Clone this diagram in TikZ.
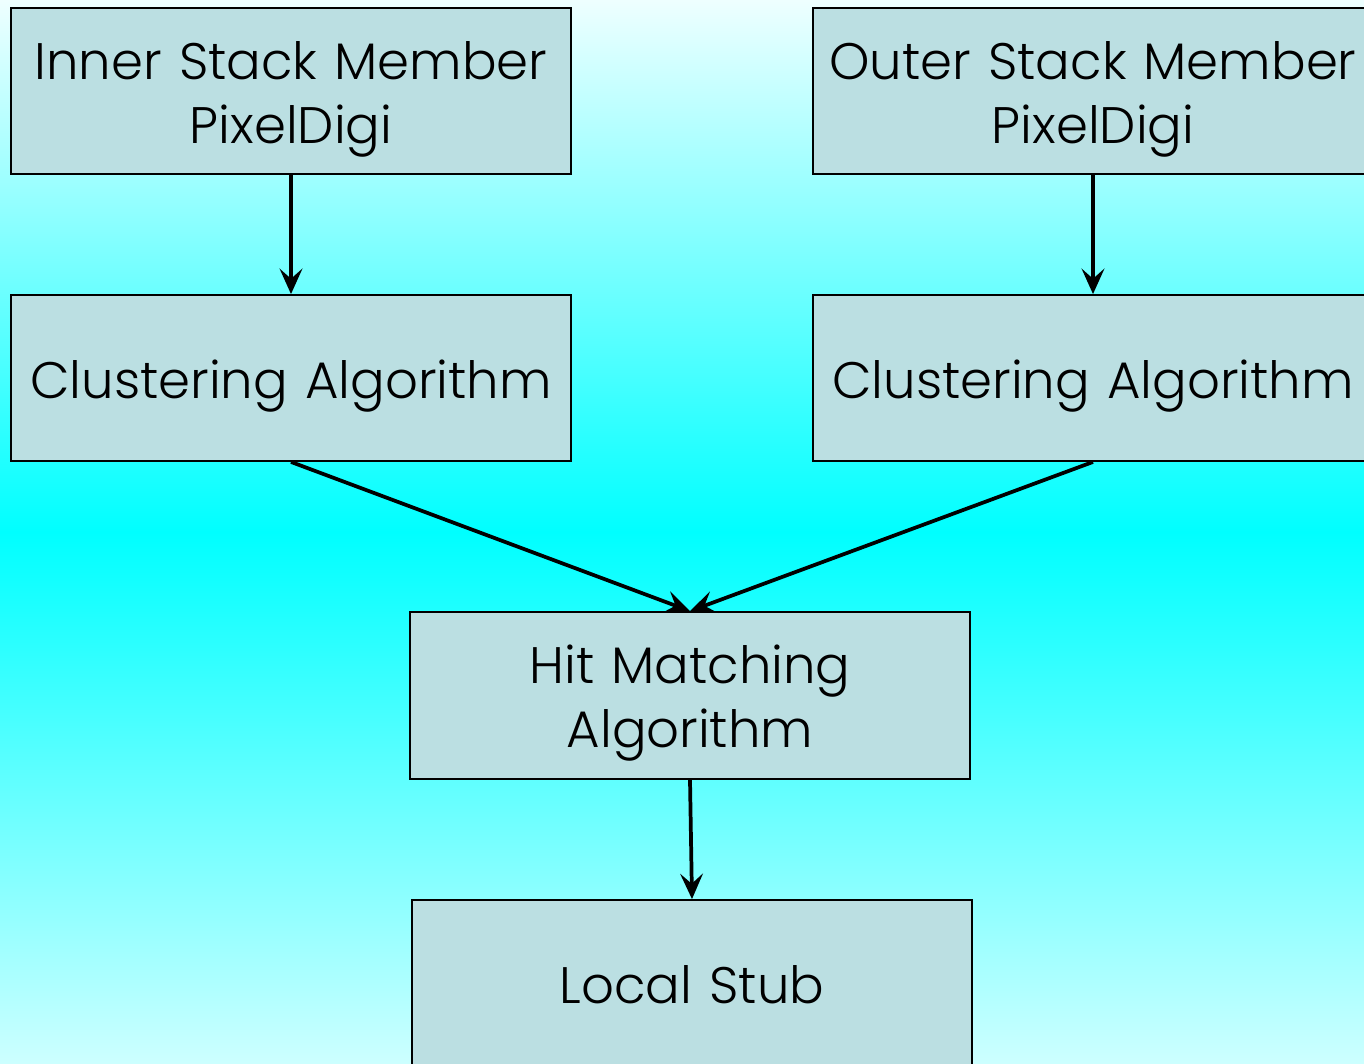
\documentclass[tikz,border=0pt]{standalone}
\usepackage{fontspec}
\IfFontExistsTF{Poppins Light}{\setmainfont{Poppins Light}}{\setmainfont{Poppins}}
\usetikzlibrary{arrows.meta}
\definecolor{boxfill}{RGB}{187,223,226}
\definecolor{skytop}{RGB}{238,255,255}
\definecolor{skymid}{RGB}{0,255,255}
\definecolor{skybot}{RGB}{205,255,255}
\tikzset{
  flowbox/.style={draw=black, line width=1.4pt, fill=boxfill, rectangle,
    minimum width=560*0.75pt, minimum height=166*0.75pt, inner sep=0pt,
    text width=560*0.75pt, align=center, font=\fontsize{38.5}{48}\selectfont},
  oneline/.style={text height=30pt, text depth=0pt},
  twoline/.style={text height=0pt, text depth=18pt},
  flowarrow/.style={line width=2.8pt,
    -{Stealth[length=19pt, width=17pt, inset=7.5pt]}}
}
\begin{document}
\begin{tikzpicture}[x=0.75pt, y=-0.75pt]
  \useasboundingbox (0,0) rectangle (1364,1064);
  \begin{scope}
    \clip (0,0) rectangle (1364,1064);
    \shade[top color=skytop, bottom color=skybot, middle color=skymid]
      (0,0) rectangle (1364,1064);

    \node[flowbox, twoline] (inner) at (291,91) {Inner Stack Member\\PixelDigi};
    \node[flowbox, twoline] (outer) at (1093,91) {Outer Stack Member\\PixelDigi};
    \node[flowbox, oneline] (clusL) at (291,378) {Clustering Algorithm};
    \node[flowbox, oneline] (clusR) at (1093,378) {Clustering Algorithm};
    \node[flowbox, twoline, minimum height=167*0.75pt] (hit) at (690,695.5) {Hit Matching\\Algorithm};
    \node[flowbox, oneline] (stub) at (692,983) {Local Stub};

    \draw[flowarrow] (inner.south) -- (clusL.north);
    \draw[flowarrow] (outer.south) -- (clusR.north);
    \draw[flowarrow] (clusL.south) -- (hit.north);
    \draw[flowarrow] (clusR.south) -- (hit.north);
    \draw[flowarrow] (hit.south) -- (stub.north);
  \end{scope}
\end{tikzpicture}
\end{document}
